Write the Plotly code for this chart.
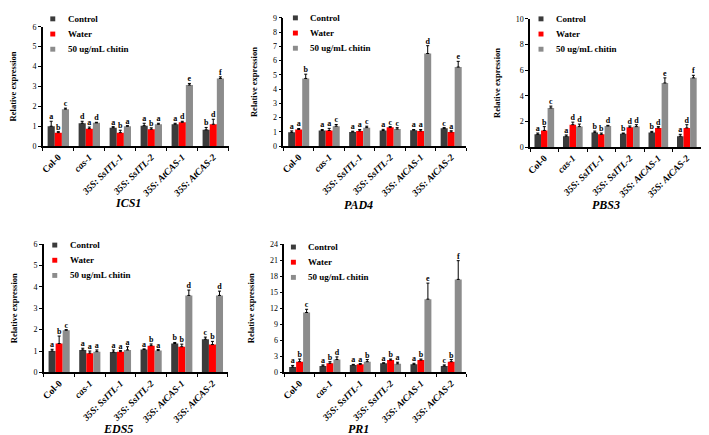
import plotly.graph_objects as go

# ---------------- data ----------------
categories = ["Col-0", "<i>cas-1</i>", "<i>35S: SsITL-1</i>", "<i>35S: SsITL-2</i>",
              "<i>35S: AtCAS-1</i>", "<i>35S: AtCAS-2</i>"]
series_names = ["Control", "Water", "50 ug/mL chitin"]
series_colors = ["#3b3b3b", "#ff0000", "#8c8c8c"]
genes = ["ICS1", "PAD4", "PBS3", "EDS5", "PR1"]

# means: [Control, Water, chitin] per category
ICS1_means = [[1.00, 1.15, 0.93, 1.03, 1.10, 0.82],
              [0.68, 0.88, 0.68, 0.85, 1.20, 1.10],
              [1.86, 1.17, 1.00, 1.10, 3.07, 3.40]]
ICS1_errs = [[0.25, 0.10, 0.05, 0.12, 0.05, 0.12],
             [0.05, 0.08, 0.12, 0.07, 0.05, 0.25],
             [0.05, 0.03, 0.03, 0.05, 0.08, 0.08]]
ICS1_letters = [["a", "d", "a", "a", "a", "b"],
                ["b", "a", "b", "b", "d", "d"],
                ["c", "d", "a", "a", "e", "f"]]

PAD4_means = [[0.97, 1.10, 1.00, 1.10, 1.12, 1.25],
              [1.17, 1.10, 1.07, 1.32, 1.07, 1.00],
              [4.75, 1.40, 1.30, 1.20, 6.50, 5.55]]
PAD4_errs = [[0.10, 0.07, 0.05, 0.08, 0.05, 0.05],
             [0.07, 0.15, 0.10, 0.05, 0.10, 0.08],
             [0.30, 0.12, 0.10, 0.10, 0.55, 0.40]]
PAD4_letters = [["a", "a", "a", "a", "a", "c"],
                ["a", "a", "a", "c", "a", "a"],
                ["b", "c", "c", "c", "d", "e"]]

PBS3_means = [[1.00, 0.85, 1.15, 1.05, 1.15, 0.85],
              [1.30, 1.75, 1.00, 1.55, 1.50, 1.50],
              [3.05, 1.60, 1.65, 1.60, 5.00, 5.40]]
PBS3_errs = [[0.10, 0.10, 0.10, 0.05, 0.08, 0.15],
             [0.30, 0.20, 0.10, 0.10, 0.10, 0.25],
             [0.15, 0.20, 0.05, 0.15, 0.40, 0.20]]
PBS3_letters = [["a", "a", "b", "b", "b", "a"],
                ["b", "d", "b", "d", "d", "d"],
                ["c", "d", "d", "d", "e", "f"]]

EDS5_means = [[1.00, 1.05, 0.95, 1.07, 1.35, 1.55],
              [1.35, 0.90, 0.97, 1.25, 1.20, 1.30],
              [1.97, 0.97, 1.05, 1.02, 3.60, 3.60]]
EDS5_errs = [[0.08, 0.08, 0.10, 0.03, 0.05, 0.10],
             [0.35, 0.10, 0.05, 0.08, 0.12, 0.15],
             [0.03, 0.08, 0.15, 0.05, 0.25, 0.20]]
EDS5_letters = [["a", "a", "a", "a", "b", "c"],
                ["b", "a", "a", "b", "b", "b"],
                ["c", "a", "a", "a", "d", "d"]]

PR1_means = [[1.00, 1.20, 1.40, 1.70, 1.50, 1.20],
             [2.00, 1.70, 1.50, 2.30, 2.30, 2.00],
             [11.20, 2.40, 2.00, 1.60, 13.70, 17.40]]
PR1_errs = [[0.30, 0.20, 0.10, 0.10, 0.20, 0.20],
            [0.50, 0.30, 0.15, 0.20, 0.20, 0.40],
            [0.60, 0.50, 0.40, 0.30, 3.00, 3.50]]
PR1_letters = [["a", "a", "a", "a", "a", "c"],
               ["b", "b", "a", "b", "b", "b"],
               ["c", "d", "b", "a", "e", "f"]]

y_max = [6, 9, 10, 6, 24]
y_dtick = [1, 1, 2, 1, 3]

data_by_gene = {
    "ICS1": (ICS1_means, ICS1_errs, ICS1_letters),
    "PAD4": (PAD4_means, PAD4_errs, PAD4_letters),
    "PBS3": (PBS3_means, PBS3_errs, PBS3_letters),
    "EDS5": (EDS5_means, EDS5_errs, EDS5_letters),
    "PR1": (PR1_means, PR1_errs, PR1_letters),
}

# ---------------- layout geometry (pixels) ----------------
W, H = 709, 435
panel_px = [(31, 218, 15, 137), (273, 457, 6, 137), (521, 693, 7, 138),
            (32, 217, 237, 368), (274, 457, 237, 368)]
title_px = [(117, 195), (348, 197), (597, 197), (107, 426), (348, 426)]
legend_px = [(41, 7), (285, 6), (532, 7), (43, 238), (283, 240)]

SERIF = "Liberation Serif"
bar_w = 0.23

fig = go.Figure()
shapes = []
annotations = []

for p, gene in enumerate(genes):
    means, errs, letters = data_by_gene[gene]
    ax = "" if p == 0 else str(p + 1)
    xref, yref = "x" + ax, "y" + ax
    xs = list(range(len(categories)))
    for k in range(3):
        xk = [x + (k - 1) * bar_w for x in xs]
        fig.add_trace(go.Bar(
            x=xk, y=means[k], width=bar_w, name=series_names[k],
            marker=dict(color=series_colors[k], line=dict(width=0)),
            error_y=dict(type="data", symmetric=False, array=errs[k],
                         arrayminus=[0] * len(errs[k]), color="black",
                         thickness=1, width=1.5),
            showlegend=False, xaxis=xref, yaxis=yref))
        fig.add_trace(go.Scatter(
            x=xk, y=[m + e for m, e in zip(means[k], errs[k])],
            mode="text", text=letters[k], textposition="top center",
            textfont=dict(family=SERIF, size=8, color="black", weight="bold"),
            showlegend=False, hoverinfo="skip", cliponaxis=False,
            xaxis=xref, yaxis=yref))

    x0, x1, yt, yb = panel_px[p]
    xdom = [x0 / W, x1 / W]
    ydom = [1 - yb / H, 1 - yt / H]
    common_font = dict(family=SERIF, size=8, color="black")
    fig.layout["xaxis" + ax] = dict(
        domain=xdom, anchor=yref, range=[-0.5, 5.5],
        tickmode="array", tickvals=xs, ticktext=categories, tickangle=-45,
        ticks="", showline=True, linecolor="black", linewidth=1.5,
        tickfont=dict(family=SERIF, size=9.5, color="black", weight="bold"),
        minor=dict(ticks="outside", tickmode="linear", tick0=0.5, dtick=1,
                   ticklen=3, tickcolor="black", tickwidth=1),
        showgrid=False, zeroline=False, fixedrange=True)
    fig.layout["yaxis" + ax] = dict(
        domain=ydom, anchor=xref, range=[0, y_max[p]], dtick=y_dtick[p],
        ticks="outside", ticklen=3, tickcolor="black", tickwidth=1,
        showline=True, linecolor="black", linewidth=1.5,
        tickfont=common_font, showgrid=False, zeroline=False,
        title=dict(text="<b>Relative expression</b>",
                   font=dict(family=SERIF, size=8.5, color="black"), standoff=14))

    tx, ty = title_px[p]
    annotations.append(dict(
        x=tx / W, y=1 - ty / H, xref="paper", yref="paper", showarrow=False,
        text="<b><i>%s</i></b>" % gene, xanchor="center", yanchor="middle",
        font=dict(family=SERIF, size=12, color="black")))

    lx, ly = legend_px[p]
    for k in range(3):
        cy = ly + k * 15.5
        shapes.append(dict(type="rect", xref="paper", yref="paper",
                           x0=(lx - 2.5) / W, x1=(lx + 2.5) / W,
                           y0=1 - (cy + 2.5) / H, y1=1 - (cy - 2.5) / H,
                           fillcolor=series_colors[k], line=dict(width=0)))
        annotations.append(dict(
            x=(lx + 13) / W, y=1 - cy / H, xref="paper", yref="paper",
            showarrow=False, text="<b>%s</b>" % series_names[k],
            xanchor="left", yanchor="middle",
            font=dict(family=SERIF, size=9, color="black")))

fig.update_layout(
    width=W, height=H, margin=dict(l=0, r=0, t=0, b=0),
    paper_bgcolor="white", plot_bgcolor="white",
    barmode="overlay", showlegend=False,
    shapes=shapes, annotations=annotations)

fig.write_html("out.html")
